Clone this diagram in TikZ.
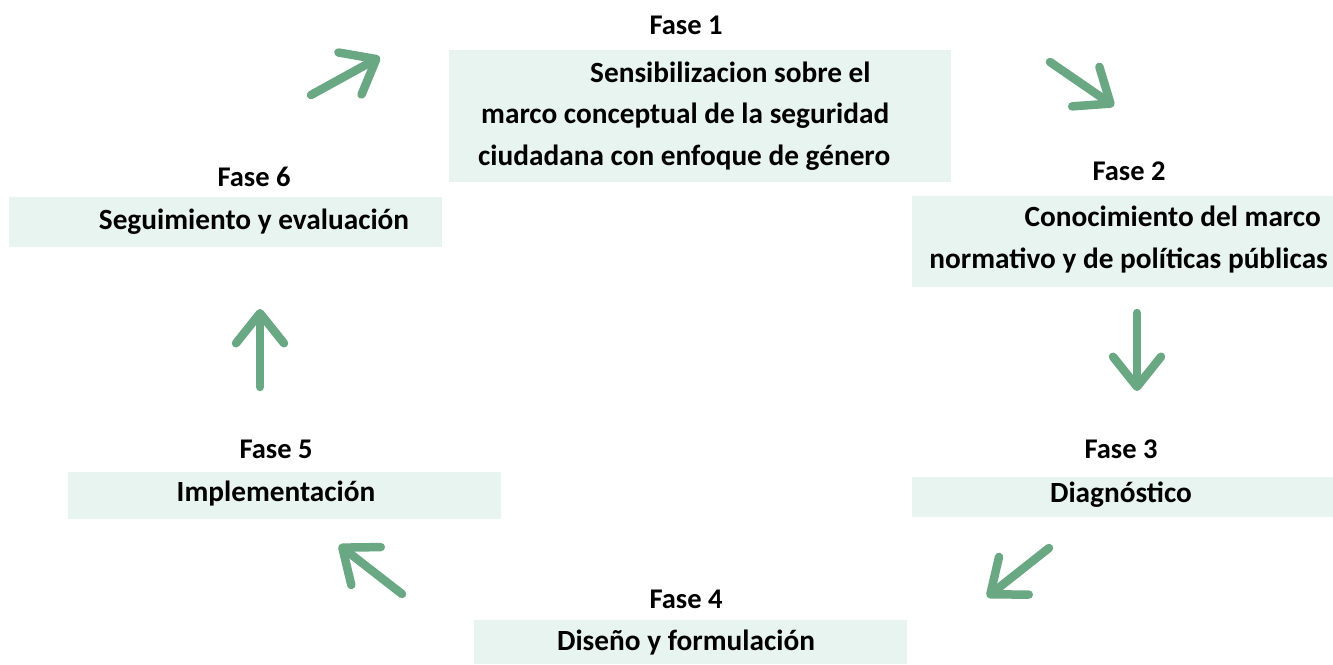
\documentclass[tikz,border=0pt]{standalone}
\usepackage{fontspec}
\setmainfont{Carlito}
\usetikzlibrary{arrows.meta}
\definecolor{boxfill}{RGB}{232,244,239}
\definecolor{arrgreen}{RGB}{106,168,132}
\begin{document}
\begin{tikzpicture}[x=1pt,y=-1pt,
  box/.style={fill=boxfill,draw=none,anchor=north west,inner sep=0pt},
  lbl/.style={font=\fontsize{29.3}{42}\selectfont\bfseries,inner sep=0pt,align=center},
  fase/.style={font=\fontsize{28.5}{30}\selectfont\bfseries,inner sep=0pt},
  flow/.style={draw=arrgreen,line width=8.5pt,line cap=round,
    -{Straight Barb[length=30pt,width=48pt,round]}}]
\useasboundingbox (0,0) rectangle (1333,664);
% boxes
\path[box] (449,50) rectangle (951,182);
\path[box] (912,196) rectangle (1333,287);
\path[box] (912,477) rectangle (1333,517);
\path[box] (474,620) rectangle (907,664);
\path[box] (68,472) rectangle (501,519);
\path[box] (9,197) rectangle (442,247);
% fase labels
\node[fase] (f1) at (686,25) {Fase 1};
\node[fase] (f2) at (1129,171) {Fase 2};
\node[fase] (f3) at (1121,449) {Fase 3};
\node[fase] (f4) at (686,599) {Fase 4};
\node[fase] (f5) at (276,449) {Fase 5};
\node[fase] (f6) at (254,177) {Fase 6};
% texts
\node[lbl,anchor=west] (t1a) at (590,72) {Sensibilizacion sobre el};
\node[lbl,anchor=west] (t1b) at (481,116) {marco conceptual de la seguridad};
\node[lbl,anchor=west] (t1c) at (478,158) {ciudadana con enfoque de género};
\node[lbl,anchor=east] (t2a) at (1321,216) {Conocimiento del marco};
\node[lbl,anchor=east] (t2b) at (1328,260) {normativo y de políticas públicas};
\node[lbl] (t3) at (1121,495) {Diagnóstico};
\node[lbl] (t4) at (686,643) {Diseño y formulación};
\node[lbl] (t5) at (276,494) {Implementación};
\node[lbl] (t6) at (254,222) {Seguimiento y evaluación};
% arrows
\coordinate (a1s) at (311,95); \coordinate (a1e) at (380,57);
\coordinate (a2s) at (1050,62); \coordinate (a2e) at (1114,106);
\coordinate (a3s) at (1137,313); \coordinate (a3e) at (1137,391);
\coordinate (a4s) at (1049,548); \coordinate (a4e) at (987,597);
\coordinate (a5s) at (402,594); \coordinate (a5e) at (339,545);
\coordinate (a6s) at (260,387); \coordinate (a6e) at (260,309);
\draw[flow] (a1s) -- (a1e);
\draw[flow] (a2s) -- (a2e);
\draw[flow] (a3s) -- (a3e);
\draw[flow] (a4s) -- (a4e);
\draw[flow] (a5s) -- (a5e);
\draw[flow] (a6s) -- (a6e);
\end{tikzpicture}
\end{document}
